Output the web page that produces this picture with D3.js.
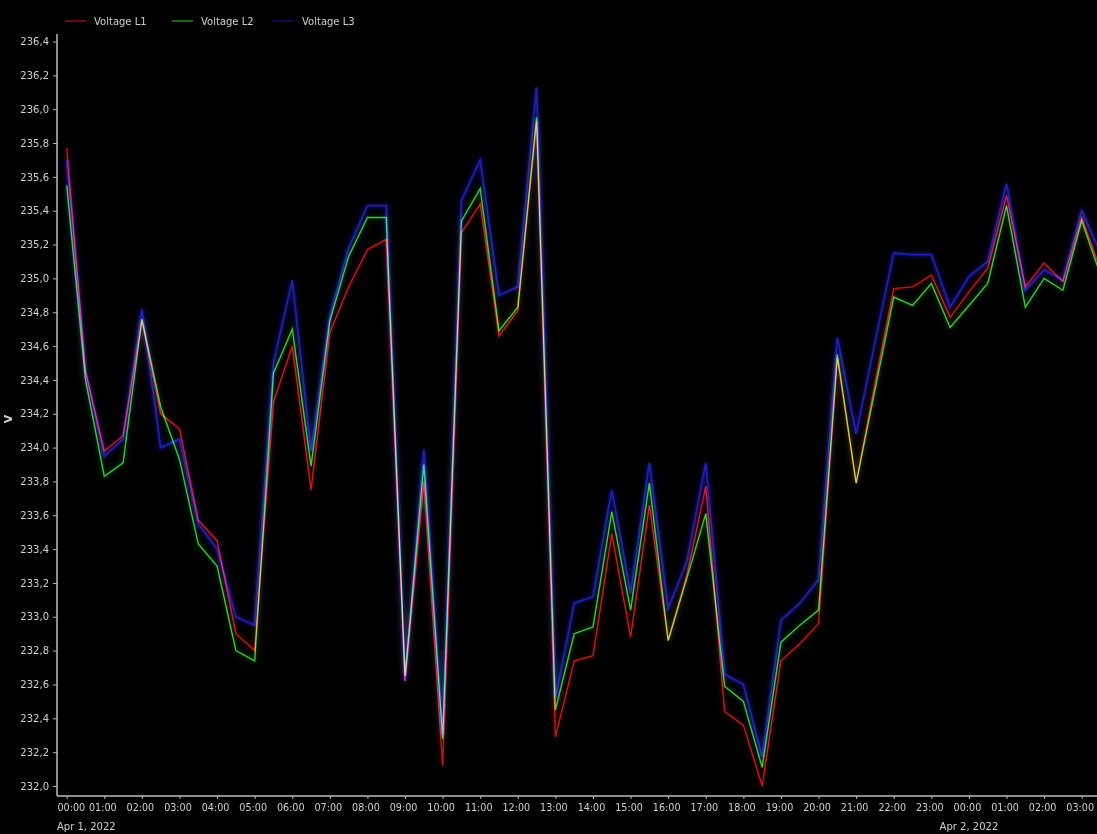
<!DOCTYPE html>
<html>
<head>
<meta charset="utf-8">
<script src="https://cdn.jsdelivr.net/npm/d3@7"></script>
<style>
    html, body { margin: 0; padding: 0; background: #000; }
    svg { display: block; }
    text { font-family: "DejaVu Sans", sans-serif; fill: #cfcfcf; }
</style>
</head>
<body>
<div id="chart"></div>
<script>
const times = [
    "2022-04-01 00:00", "2022-04-01 00:30", "2022-04-01 01:00", "2022-04-01 01:30",
    "2022-04-01 02:00", "2022-04-01 02:30", "2022-04-01 03:00", "2022-04-01 03:30",
    "2022-04-01 04:00", "2022-04-01 04:30", "2022-04-01 05:00", "2022-04-01 05:30",
    "2022-04-01 06:00", "2022-04-01 06:30", "2022-04-01 07:00", "2022-04-01 07:30",
    "2022-04-01 08:00", "2022-04-01 08:30", "2022-04-01 09:00", "2022-04-01 09:30",
    "2022-04-01 10:00", "2022-04-01 10:30", "2022-04-01 11:00", "2022-04-01 11:30",
    "2022-04-01 12:00", "2022-04-01 12:30", "2022-04-01 13:00", "2022-04-01 13:30",
    "2022-04-01 14:00", "2022-04-01 14:30", "2022-04-01 15:00", "2022-04-01 15:30",
    "2022-04-01 16:00", "2022-04-01 16:30", "2022-04-01 17:00", "2022-04-01 17:30",
    "2022-04-01 18:00", "2022-04-01 18:30", "2022-04-01 19:00", "2022-04-01 19:30",
    "2022-04-01 20:00", "2022-04-01 20:30", "2022-04-01 21:00", "2022-04-01 21:30",
    "2022-04-01 22:00", "2022-04-01 22:30", "2022-04-01 23:00", "2022-04-01 23:30",
    "2022-04-02 00:00", "2022-04-02 00:30", "2022-04-02 01:00", "2022-04-02 01:30",
    "2022-04-02 02:00", "2022-04-02 02:30", "2022-04-02 03:00", "2022-04-02 03:30"
];

const voltageL1 = [
    235.77, 234.45, 233.98, 234.07, 234.75, 234.20, 234.11, 233.57,
    233.45, 232.90, 232.80, 234.27, 234.60, 233.75, 234.68, 234.95,
    235.17, 235.23, 232.62, 233.80, 232.12, 235.27, 235.44, 234.66,
    234.81, 235.93, 232.29, 232.74, 232.77, 233.49, 232.88, 233.66,
    232.86, 233.25, 233.77, 232.44, 232.36, 232.00, 232.74, 232.84,
    232.96, 234.53, 233.79, 234.38, 234.94, 234.95, 235.02, 234.77,
    234.92, 235.06, 235.49, 234.95, 235.09, 234.98, 235.36, 235.05
];

const voltageL2 = [
    235.55, 234.40, 233.83, 233.91, 234.76, 234.24, 233.93, 233.43,
    233.30, 232.80, 232.74, 234.44, 234.70, 233.89, 234.75, 235.13,
    235.36, 235.36, 232.65, 233.90, 232.28, 235.34, 235.53, 234.69,
    234.83, 235.95, 232.45, 232.90, 232.94, 233.62, 233.04, 233.79,
    232.86, 233.23, 233.61, 232.59, 232.50, 232.11, 232.85, 232.95,
    233.04, 234.55, 233.79, 234.34, 234.89, 234.84, 234.97, 234.71,
    234.84, 234.97, 235.43, 234.83, 235.00, 234.93, 235.34, 235.02
];

const voltageL3 = [
    235.70, 234.45, 233.95, 234.05, 234.82, 234.00, 234.05, 233.55,
    233.40, 233.00, 232.95, 234.50, 234.99, 233.98, 234.78, 235.18,
    235.43, 235.43, 232.62, 233.99, 232.30, 235.46, 235.70, 234.90,
    234.95, 236.13, 232.52, 233.08, 233.12, 233.75, 233.14, 233.91,
    233.05, 233.33, 233.91, 232.66, 232.60, 232.17, 232.98, 233.08,
    233.22, 234.65, 234.08, 234.62, 235.15, 235.14, 235.14, 234.83,
    235.01, 235.10, 235.56, 234.93, 235.05, 234.99, 235.40, 235.15
];

const seriesNames = ["Voltage L1", "Voltage L2", "Voltage L3"];
const seriesColors = ["#c41616", "#2fc42f", "#16169a"];

const yTicks = [232.0, 232.2, 232.4, 232.6, 232.8, 233.0, 233.2, 233.4, 233.6, 233.8,
    234.0, 234.2, 234.4, 234.6, 234.8, 235.0, 235.2, 235.4, 235.6, 235.8, 236.0, 236.2, 236.4];

const xTicks = [
    "2022-04-01 00:00", "2022-04-01 01:00", "2022-04-01 02:00", "2022-04-01 03:00",
    "2022-04-01 04:00", "2022-04-01 05:00", "2022-04-01 06:00", "2022-04-01 07:00",
    "2022-04-01 08:00", "2022-04-01 09:00", "2022-04-01 10:00", "2022-04-01 11:00",
    "2022-04-01 12:00", "2022-04-01 13:00", "2022-04-01 14:00", "2022-04-01 15:00",
    "2022-04-01 16:00", "2022-04-01 17:00", "2022-04-01 18:00", "2022-04-01 19:00",
    "2022-04-01 20:00", "2022-04-01 21:00", "2022-04-01 22:00", "2022-04-01 23:00",
    "2022-04-02 00:00", "2022-04-02 01:00", "2022-04-02 02:00", "2022-04-02 03:00"
];
const dateLabels = [
    { at: "2022-04-01 00:00", text: "Apr 1, 2022" },
    { at: "2022-04-02 00:00", text: "Apr 2, 2022" }
];

const width = 1097;
const height = 834;
const axisLeft = 57;
const axisBottom = 796;
const plotTop = 34;

const parse = d3.timeParse("%Y-%m-%d %H:%M");
const fmt = d3.timeFormat("%H:%M");

const svg = d3.select("#chart")
    .append("svg")
    .attr("width", width)
    .attr("height", height)
    .style("background", "#000");

const x = d3.scaleTime()
    .domain([parse("2022-04-01 00:00"), parse("2022-04-02 03:00")])
    .range([66.7, 1081.7]);

const y = d3.scaleLinear()
    .domain([232.0, 236.4])
    .range([786, 41.5]);

// clip so the last segment runs off the right edge like in the original
svg.append("clipPath")
    .attr("id", "plot")
    .append("rect")
    .attr("x", axisLeft + 1)
    .attr("y", plotTop - 10)
    .attr("width", width - axisLeft)
    .attr("height", axisBottom - plotTop + 10);

const glow = svg.append("defs").append("filter")
    .attr("id", "glow")
    .attr("x", "-20%").attr("y", "-20%")
    .attr("width", "140%").attr("height", "140%");
glow.append("feGaussianBlur").attr("stdDeviation", 2.8);

const series = [voltageL1, voltageL2, voltageL3].map((vals, i) => ({
    name: seriesNames[i],
    color: seriesColors[i],
    points: vals.map((v, j) => ({ t: parse(times[j]), v: v }))
}));

const line = d3.line()
    .x((d) => x(d.t))
    .y((d) => y(d.v));

const plot = svg.append("g")
    .attr("clip-path", "url(#plot)")
    .style("isolation", "isolate");

// soft halo under the lines, blue first so it sits at the back
[2, 0, 1].forEach((i) => {
    plot.append("path")
        .datum(series[i].points)
        .attr("d", line)
        .attr("fill", "none")
        .attr("stroke", series[i].color)
        .attr("stroke-width", 5)
        .attr("stroke-opacity", i === 2 ? 0.5 : 0.16)
        .attr("filter", "url(#glow)")
        .style("mix-blend-mode", "screen");
});

[2, 0, 1].forEach((i) => {
    plot.append("path")
        .datum(series[i].points)
        .attr("d", line)
        .attr("fill", "none")
        .attr("stroke", series[i].color)
        .attr("stroke-width", i === 2 ? 1.8 : 1.4)
        .attr("stroke-linejoin", "miter")
        .style("mix-blend-mode", "screen");
});

// y axis
const yAxis = svg.append("g")
    .attr("transform", "translate(" + axisLeft + ",0)")
    .call(d3.axisLeft(y)
        .tickValues(yTicks)
        .tickSize(4)
        .tickPadding(4)
        .tickFormat((d) => d3.format(".1f")(d).replace(".", ",")));
yAxis.select(".domain").remove();
yAxis.selectAll(".tick line").attr("stroke", "#b4b4b4");
yAxis.selectAll(".tick text")
    .style("font-size", "10px")
    .style("fill", "#cfcfcf")
    .attr("font-family", null);

svg.append("line")
    .attr("x1", axisLeft).attr("x2", axisLeft)
    .attr("y1", plotTop).attr("y2", axisBottom)
    .attr("stroke", "#bcbcbc")
    .attr("stroke-width", 1.5);

// x axis
const xAxis = svg.append("g")
    .attr("transform", "translate(0," + axisBottom + ")")
    .call(d3.axisBottom(x)
        .tickValues(xTicks.map(parse))
        .tickSize(3)
        .tickPadding(5)
        .tickFormat(fmt));
xAxis.select(".domain").remove();
xAxis.selectAll(".tick line").attr("stroke", "#b4b4b4");
xAxis.selectAll(".tick text")
    .style("font-size", "9.6px")
    .style("fill", "#cfcfcf")
    .attr("font-family", null)
    .attr("x", (d, i) => i === 0 ? axisLeft - x(d) : -2)
    .attr("text-anchor", (d, i) => i === 0 ? "start" : "middle");

svg.append("line")
    .attr("x1", axisLeft).attr("x2", width)
    .attr("y1", axisBottom).attr("y2", axisBottom)
    .attr("stroke", "#bcbcbc")
    .attr("stroke-width", 1.5);

svg.selectAll("text.date")
    .data(dateLabels)
    .enter().append("text")
    .attr("class", "date")
    .attr("x", (d, i) => i === 0 ? axisLeft : x(parse(d.at)))
    .attr("y", 830)
    .attr("text-anchor", (d, i) => i === 0 ? "start" : "middle")
    .style("font-size", "10px")
    .text((d) => d.text);

// unit label
svg.append("text")
    .attr("transform", "translate(12,419) rotate(-90)")
    .attr("text-anchor", "middle")
    .style("font-size", "11px")
    .style("font-weight", "bold")
    .text("V");

// legend
const legendX = [65, 172, 273];
const legend = svg.selectAll("g.legend")
    .data(series)
    .enter().append("g")
    .attr("class", "legend")
    .attr("transform", (d, i) => "translate(" + legendX[i] + ",21)");

legend.append("line")
    .attr("x1", 0).attr("x2", 21)
    .attr("stroke", (d) => d.color)
    .attr("stroke-width", 1.5)
    .attr("stroke-opacity", 0.7);

legend.append("text")
    .attr("x", 29)
    .attr("dy", "0.35em")
    .style("font-size", "10px")
    .text((d) => d.name);
</script>
</body>
</html>
